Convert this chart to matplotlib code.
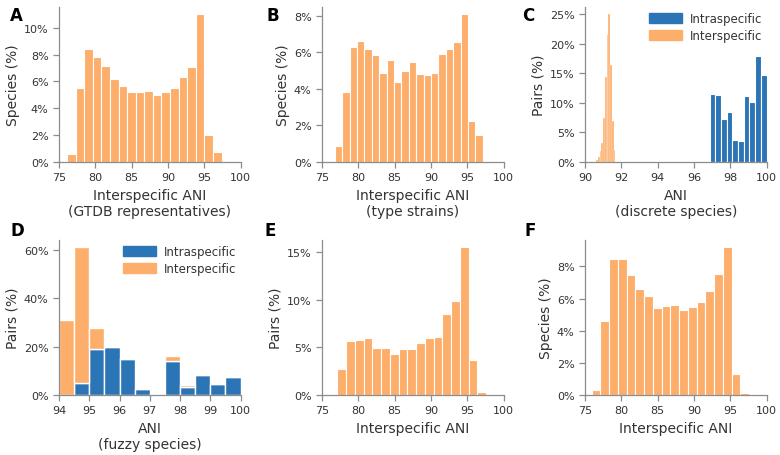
import numpy as np
import matplotlib
matplotlib.use('Agg')
import matplotlib.pyplot as plt
from matplotlib.ticker import PercentFormatter, MultipleLocator

ORANGE = '#fdae6b'
BLUE = '#2b74b5'
GREY = '#8c8c8c'
TXT = '#333333'

# A: interspecific ANI, GTDB representatives (% species per bin)
a_start, a_width = 76.1, 1.183
a_vals = [0.63, 5.5, 8.4, 7.8, 7.15, 6.2, 5.7, 5.2, 5.2, 5.3, 5.0, 5.25, 5.5,
          6.3, 7.1, 11.0, 2.0, 0.72]

# B: interspecific ANI, type strains
b_start, b_width = 76.76, 1.019
b_vals = [0.88, 3.84, 6.28, 6.59, 6.17, 5.83, 4.89, 5.59, 4.38, 4.97, 5.48,
          4.80, 4.77, 4.89, 5.92, 6.16, 6.54, 8.07, 2.26, 1.46]

# C: discrete species
c_inter_start, c_inter_width = 90.61, 0.097
c_inter = [0.3, 0.9, 1.8, 3.2, 7.5, 14.4, 21.5, 25.0, 16.5, 7.0, 2.0]
c_intra_start, c_intra_width = 96.87, 0.313
c_intra = [11.5, 11.3, 7.3, 8.4, 3.8, 3.5, 11.2, 10.1, 17.9, 14.7]

# D: fuzzy species (stacked)
d_start, d_width = 94.0, 0.5
d_intra = [0.0, 5.0, 18.9, 20.0, 14.7, 2.5, 0.3, 14.2, 3.3, 8.3, 4.6, 7.4]
d_inter = [31.2, 56.1, 8.7, 0.0, 0.8, 0.0, 0.0, 1.8, 0.9, 0.0, 0.0, 0.0]

# E: interspecific ANI (pairs)
e_start, e_width = 75.93, 1.204
e_vals = [0.1, 2.68, 5.67, 5.81, 5.99, 4.89, 4.89, 4.30, 4.82, 4.82, 5.49,
          5.99, 6.13, 8.49, 9.89, 15.49, 3.66, 0.28, 0.14, 0.07]

# F: interspecific ANI (species)
f_start, f_width = 75.92, 1.204
f_vals = [0.29, 4.6, 8.44, 8.44, 7.46, 6.6, 6.19, 5.4, 5.56, 5.58, 5.31, 5.46,
          5.77, 6.5, 7.54, 9.19, 1.29, 0.1, 0.04, 0.02]


def edges(start, width, vals):
    return start + width * np.arange(len(vals))


def style(ax, xlim, xstep, ystep, xlabel, ylabel):
    for s in ['top', 'right']:
        ax.spines[s].set_visible(False)
    for s in ['left', 'bottom']:
        ax.spines[s].set_color(GREY)
        ax.spines[s].set_linewidth(0.9)
    ax.tick_params(colors=GREY, labelcolor=TXT, labelsize=8, length=4,
                   width=0.9, direction='out')
    ax.set_xlim(*xlim)
    ax.xaxis.set_major_locator(MultipleLocator(xstep))
    ax.yaxis.set_major_locator(MultipleLocator(ystep))
    ax.yaxis.set_major_formatter(PercentFormatter(decimals=0))
    ax.set_xlabel(xlabel, fontsize=10, color=TXT, labelpad=4)
    ax.set_ylabel(ylabel, fontsize=10, color=TXT, labelpad=3)


def hist(ax, start, width, vals, color, lw=0.8, bottom=None):
    ax.bar(edges(start, width, vals), vals, width=width, align='edge',
           color=color, edgecolor='white', linewidth=lw, bottom=bottom)


fig = plt.figure(figsize=(7.8, 4.56), dpi=100)
cols = [59 / 780, 322 / 780, 585 / 780]
w = 181.5 / 780
rows = [1 - 163 / 456, 1 - 396 / 456]
h = 155 / 456

axA = fig.add_axes([cols[0], rows[0], w, h])
hist(axA, a_start, a_width, a_vals, ORANGE)
style(axA, (75, 100), 5, 2, 'Interspecific ANI\n(GTDB representatives)', 'Species (%)')

axB = fig.add_axes([cols[1], rows[0], w, h])
hist(axB, b_start, b_width, b_vals, ORANGE)
style(axB, (75, 100), 5, 2, 'Interspecific ANI\n(type strains)', 'Species (%)')

axC = fig.add_axes([cols[2], rows[0], w, h])
hist(axC, c_intra_start, c_intra_width, c_intra, BLUE, lw=0.8)
hist(axC, c_inter_start, c_inter_width, c_inter, ORANGE, lw=0.2)
style(axC, (90, 100), 2, 5, 'ANI\n(discrete species)', 'Pairs (%)')

axD = fig.add_axes([cols[0], rows[1], w, h])
hist(axD, d_start, d_width, d_intra, BLUE, lw=1.0)
hist(axD, d_start, d_width, d_inter, ORANGE, lw=1.0, bottom=d_intra)
style(axD, (94, 100), 1, 20, 'ANI\n(fuzzy species)', 'Pairs (%)')

axE = fig.add_axes([cols[1], rows[1], w, h])
hist(axE, e_start, e_width, e_vals, ORANGE)
style(axE, (75, 100), 5, 5, 'Interspecific ANI', 'Pairs (%)')

axF = fig.add_axes([cols[2], rows[1], w, h])
hist(axF, f_start, f_width, f_vals, ORANGE)
style(axF, (75, 100), 5, 2, 'Interspecific ANI', 'Species (%)')

for ax in [axC, axD]:
    handles = [plt.Rectangle((0, 0), 1, 1, color=BLUE),
               plt.Rectangle((0, 0), 1, 1, color=ORANGE)]
    ax.legend(handles, ['Intraspecific', 'Interspecific'], loc='upper right',
              frameon=False, fontsize=8.5, handlelength=2.8, handleheight=0.9,
              borderaxespad=0.0, labelspacing=0.4, handletextpad=0.6,
              labelcolor=TXT)

letters = [('A', 10, 7), ('B', 266, 7), ('C', 522, 7),
           ('D', 10, 222), ('E', 264, 222), ('F', 524, 222)]
for txt, px, py in letters:
    fig.text(px / 780, 1 - py / 456, txt, fontsize=12, fontweight='bold',
             va='top', ha='left', color='black')

fig.savefig('out.png', dpi=100)
